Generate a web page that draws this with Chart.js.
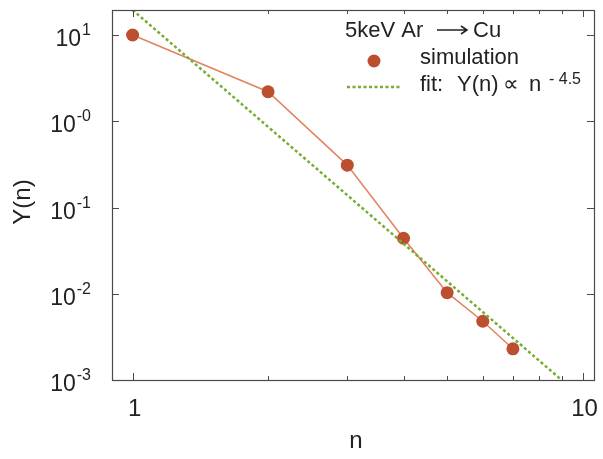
<!DOCTYPE html>
<html>
<head>
<meta charset="utf-8">
<script src="https://cdn.jsdelivr.net/npm/chart.js@4/dist/chart.umd.min.js"></script>
<style>
  html, body { margin: 0; padding: 0; background: #fff; }
  #wrap { width: 603px; height: 459px; }
</style>
</head>
<body>
<div id="wrap"><canvas id="yieldChart" width="603" height="459"></canvas></div>
<script>
// cluster size n and yield Y(n)
const nValues = [1, 2, 3, 4, 5, 6, 7];
const yieldValues = [10, 2.2, 0.31, 0.044, 0.0103, 0.0048, 0.0023];

// fit line end points (power law, straight on log-log axes)
const fitN = [1, 9];
const fitY = [19.5, 0.00099];

// tick labels
const yTickValues = [10, 1, 0.1, 0.01, 0.001];
const yTickExponents = ['1', '-0', '-1', '-2', '-3'];
const xTickValues = [1, 10];
const xTickLabels = ['1', '10'];
const xMinorTicks = [2, 3, 4, 5, 6, 7, 8, 9];

const FONT = '"Liberation Sans", Arial, sans-serif';
const simColor = '#bb4f30';
const simLine = '#e2825e';
const fitColor = '#76ad32';

// 枠線・目盛り・ラベル・凡例を描く
const framePlugin = {
    id: 'frame',
    afterDraw(chart) {
        const ctx = chart.ctx;
        const area = chart.chartArea;
        const xs = chart.scales.x;
        const ys = chart.scales.y;
        ctx.save();
        ctx.strokeStyle = '#4a4a4a';
        ctx.lineWidth = 1.2;
        ctx.strokeRect(area.left + 0.5, area.top + 0.5, area.right - area.left, area.bottom - area.top);

        ctx.lineWidth = 1;
        ctx.beginPath();
        yTickValues.forEach(v => {
            const y = Math.round(ys.getPixelForValue(v)) + 0.5;
            ctx.moveTo(area.left, y); ctx.lineTo(area.left + 7, y);
            ctx.moveTo(area.right, y); ctx.lineTo(area.right - 7, y);
        });
        xTickValues.forEach(v => {
            const x = Math.round(xs.getPixelForValue(v)) + 0.5;
            ctx.moveTo(x, area.bottom); ctx.lineTo(x, area.bottom - 7);
            ctx.moveTo(x, area.top); ctx.lineTo(x, area.top + 7);
        });
        xMinorTicks.forEach(v => {
            const x = Math.round(xs.getPixelForValue(v)) + 0.5;
            ctx.moveTo(x, area.bottom); ctx.lineTo(x, area.bottom - 4);
            ctx.moveTo(x, area.top); ctx.lineTo(x, area.top + 4);
        });
        ctx.stroke();

        // y tick labels 10^k
        ctx.fillStyle = '#222';
        ctx.textBaseline = 'alphabetic';
        yTickValues.forEach((v, i) => {
            const y = ys.getPixelForValue(v);
            ctx.font = '16px ' + FONT;
            ctx.textAlign = 'right';
            const expW = ctx.measureText(yTickExponents[i]).width;
            ctx.fillText(yTickExponents[i], 91, y);
            ctx.font = '23px ' + FONT;
            ctx.fillText('10', 90 - expW, y + 11);
        });

        // x tick labels
        ctx.font = '24px ' + FONT;
        ctx.textAlign = 'center';
        xTickValues.forEach((v, i) => {
            ctx.fillText(xTickLabels[i], xs.getPixelForValue(v) + 2, 416);
        });

        // axis titles
        ctx.font = '24px ' + FONT;
        ctx.fillText('n', 356, 448);
        ctx.save();
        ctx.translate(30, 202);
        ctx.rotate(-Math.PI / 2);
        ctx.fillText('Y(n)', 0, 0);
        ctx.restore();

        // legend
        ctx.textAlign = 'left';
        ctx.font = '22px ' + FONT;
        ctx.fillText('5keV Ar', 345, 37);
        ctx.fillText('Cu', 473, 37);
        ctx.fillText('simulation', 420, 64);
        ctx.fillText('fit:', 420, 91);
        ctx.fillText('Y(n)', 457, 91);
        ctx.fillText('\u221d', 503, 91);
        ctx.fillText('n', 529, 91);
        ctx.font = '16px ' + FONT;
        ctx.fillText('- 4.5', 549, 84);

        // arrow
        ctx.strokeStyle = '#222';
        ctx.lineWidth = 1.6;
        ctx.beginPath();
        ctx.moveTo(437, 30); ctx.lineTo(466, 30);
        ctx.moveTo(461, 26); ctx.lineTo(467, 30); ctx.lineTo(461, 34);
        ctx.stroke();

        ctx.fillStyle = simColor;
        ctx.beginPath();
        ctx.arc(374, 61, 6.5, 0, Math.PI * 2);
        ctx.fill();

        ctx.strokeStyle = fitColor;
        ctx.lineWidth = 2.5;
        ctx.setLineDash([3, 2.5]);
        ctx.beginPath();
        ctx.moveTo(347, 87); ctx.lineTo(402, 87);
        ctx.stroke();
        ctx.restore();
    }
};

const simPoints = nValues.map((n, i) => ({ x: n, y: yieldValues[i] }));
const fitPoints = fitN.map((n, i) => ({ x: n, y: fitY[i] }));

new Chart(document.getElementById('yieldChart'), {
    type: 'scatter',
    data: {
        datasets: [{
            label: 'simulation',
            data: simPoints,
            showLine: true,
            borderColor: simLine,
            borderWidth: 1.5,
            pointRadius: 6.5,
            pointBackgroundColor: simColor,
            pointBorderColor: simColor,
            pointBorderWidth: 0,
            order: 2
        }, {
            label: 'fit',
            data: fitPoints,
            showLine: true,
            borderColor: fitColor,
            borderWidth: 2.5,
            borderDash: [3, 2.5],
            pointRadius: 0,
            order: 1
        }]
    },
    options: {
        responsive: false,
        animation: false,
        layout: { padding: { left: 112, top: 10, right: 9, bottom: 79 } },
        scales: {
            x: { type: 'logarithmic', min: 0.9, max: 10.6, display: false },
            y: { type: 'logarithmic', min: 0.001, max: 19.5, display: false }
        },
        plugins: {
            legend: { display: false },
            tooltip: { enabled: false }
        }
    },
    plugins: [framePlugin]
});
</script>
</body>
</html>
